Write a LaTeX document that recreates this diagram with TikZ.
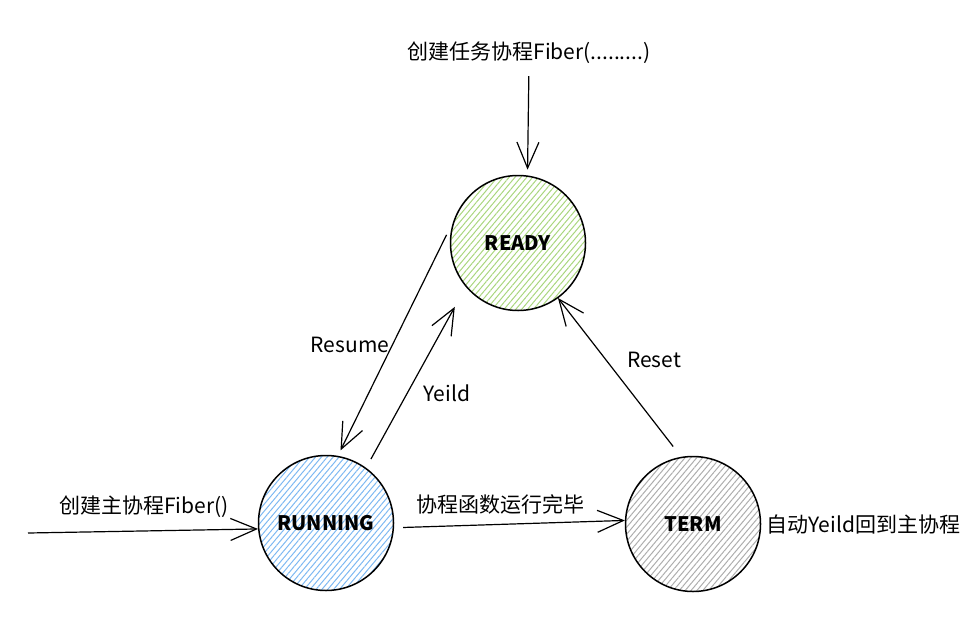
\documentclass[tikz,border=0pt]{standalone}
\usepackage{fontspec}
\setmainfont{Noto Sans CJK SC}
\usetikzlibrary{arrows.meta, positioning, patterns.meta}
\definecolor{readyC}{HTML}{A9D67E}
\definecolor{runC}{HTML}{7DB8F2}
\definecolor{termC}{HTML}{ADADAD}
\tikzset{
  stateV/.style={circle, draw=black, line width=1.5pt,
                 minimum size=135pt, inner sep=0pt,
                 font=\fontsize{20}{24}\selectfont\bfseries},
  readyV/.style={stateV, pattern={Lines[angle=50,distance=4.5pt,line width=1pt]},
                 pattern color=readyC},
  runV/.style={stateV, pattern={Lines[angle=50,distance=4.5pt,line width=1pt]},
               pattern color=runC},
  termV/.style={stateV, pattern={Lines[angle=50,distance=4.5pt,line width=1pt]},
                pattern color=termC},
  lbl/.style={font=\fontsize{21}{25}\selectfont, inner sep=0pt},
  flow/.style={line width=1.2pt, -{Straight Barb[length=26pt,width=22pt]}},
}
\begin{document}
\begin{tikzpicture}[x=1pt,y=-1pt]
    \useasboundingbox (0,0) rectangle (976,616);
    %% states
    \node[readyV] (ready)   at (518,243) {READY};
    \node[runV]   (running) at (326,523) {RUNNING};
    \node[termV]  (term)    at (693,524) {TERM};
    %% free labels
    \node[lbl] (newtask) at (529,53)  {创建任务协程Fiber(.........)};
    \node[lbl] (newmain) at (144,507) {创建主协程Fiber()};
    \node[lbl] (resumelbl) at (350,345) {Resume};
    \node[lbl] (yeildlbl)  at (447,393) {Yeild};
    \node[lbl] (resetlbl)  at (654,360) {Reset};
    \node[lbl, right=5pt of term] (autolbl) {自动Yeild回到主协程};
    \coordinate (mainstart) at (28,533);
    %% transitions
    \draw[flow, shorten <=12pt, shorten >=6pt] (newtask.south) -- (ready.82);
    \draw[flow] (mainstart) -- (running.185);
    \draw[flow, shorten <=18pt, shorten >=6pt] (ready.159) -- (running.80);
    \draw[flow, shorten <=10pt, shorten >=23pt] (running.54) -- (ready.220);
    \draw[flow, shorten <=13pt] (term.100) -- (ready.306);
    \draw[flow, shorten <=9pt] (running.356) -- (term.177)
        node[lbl, above=10pt, pos=0.46] (donelbl) {协程函数运行完毕};
\end{tikzpicture}
\end{document}
